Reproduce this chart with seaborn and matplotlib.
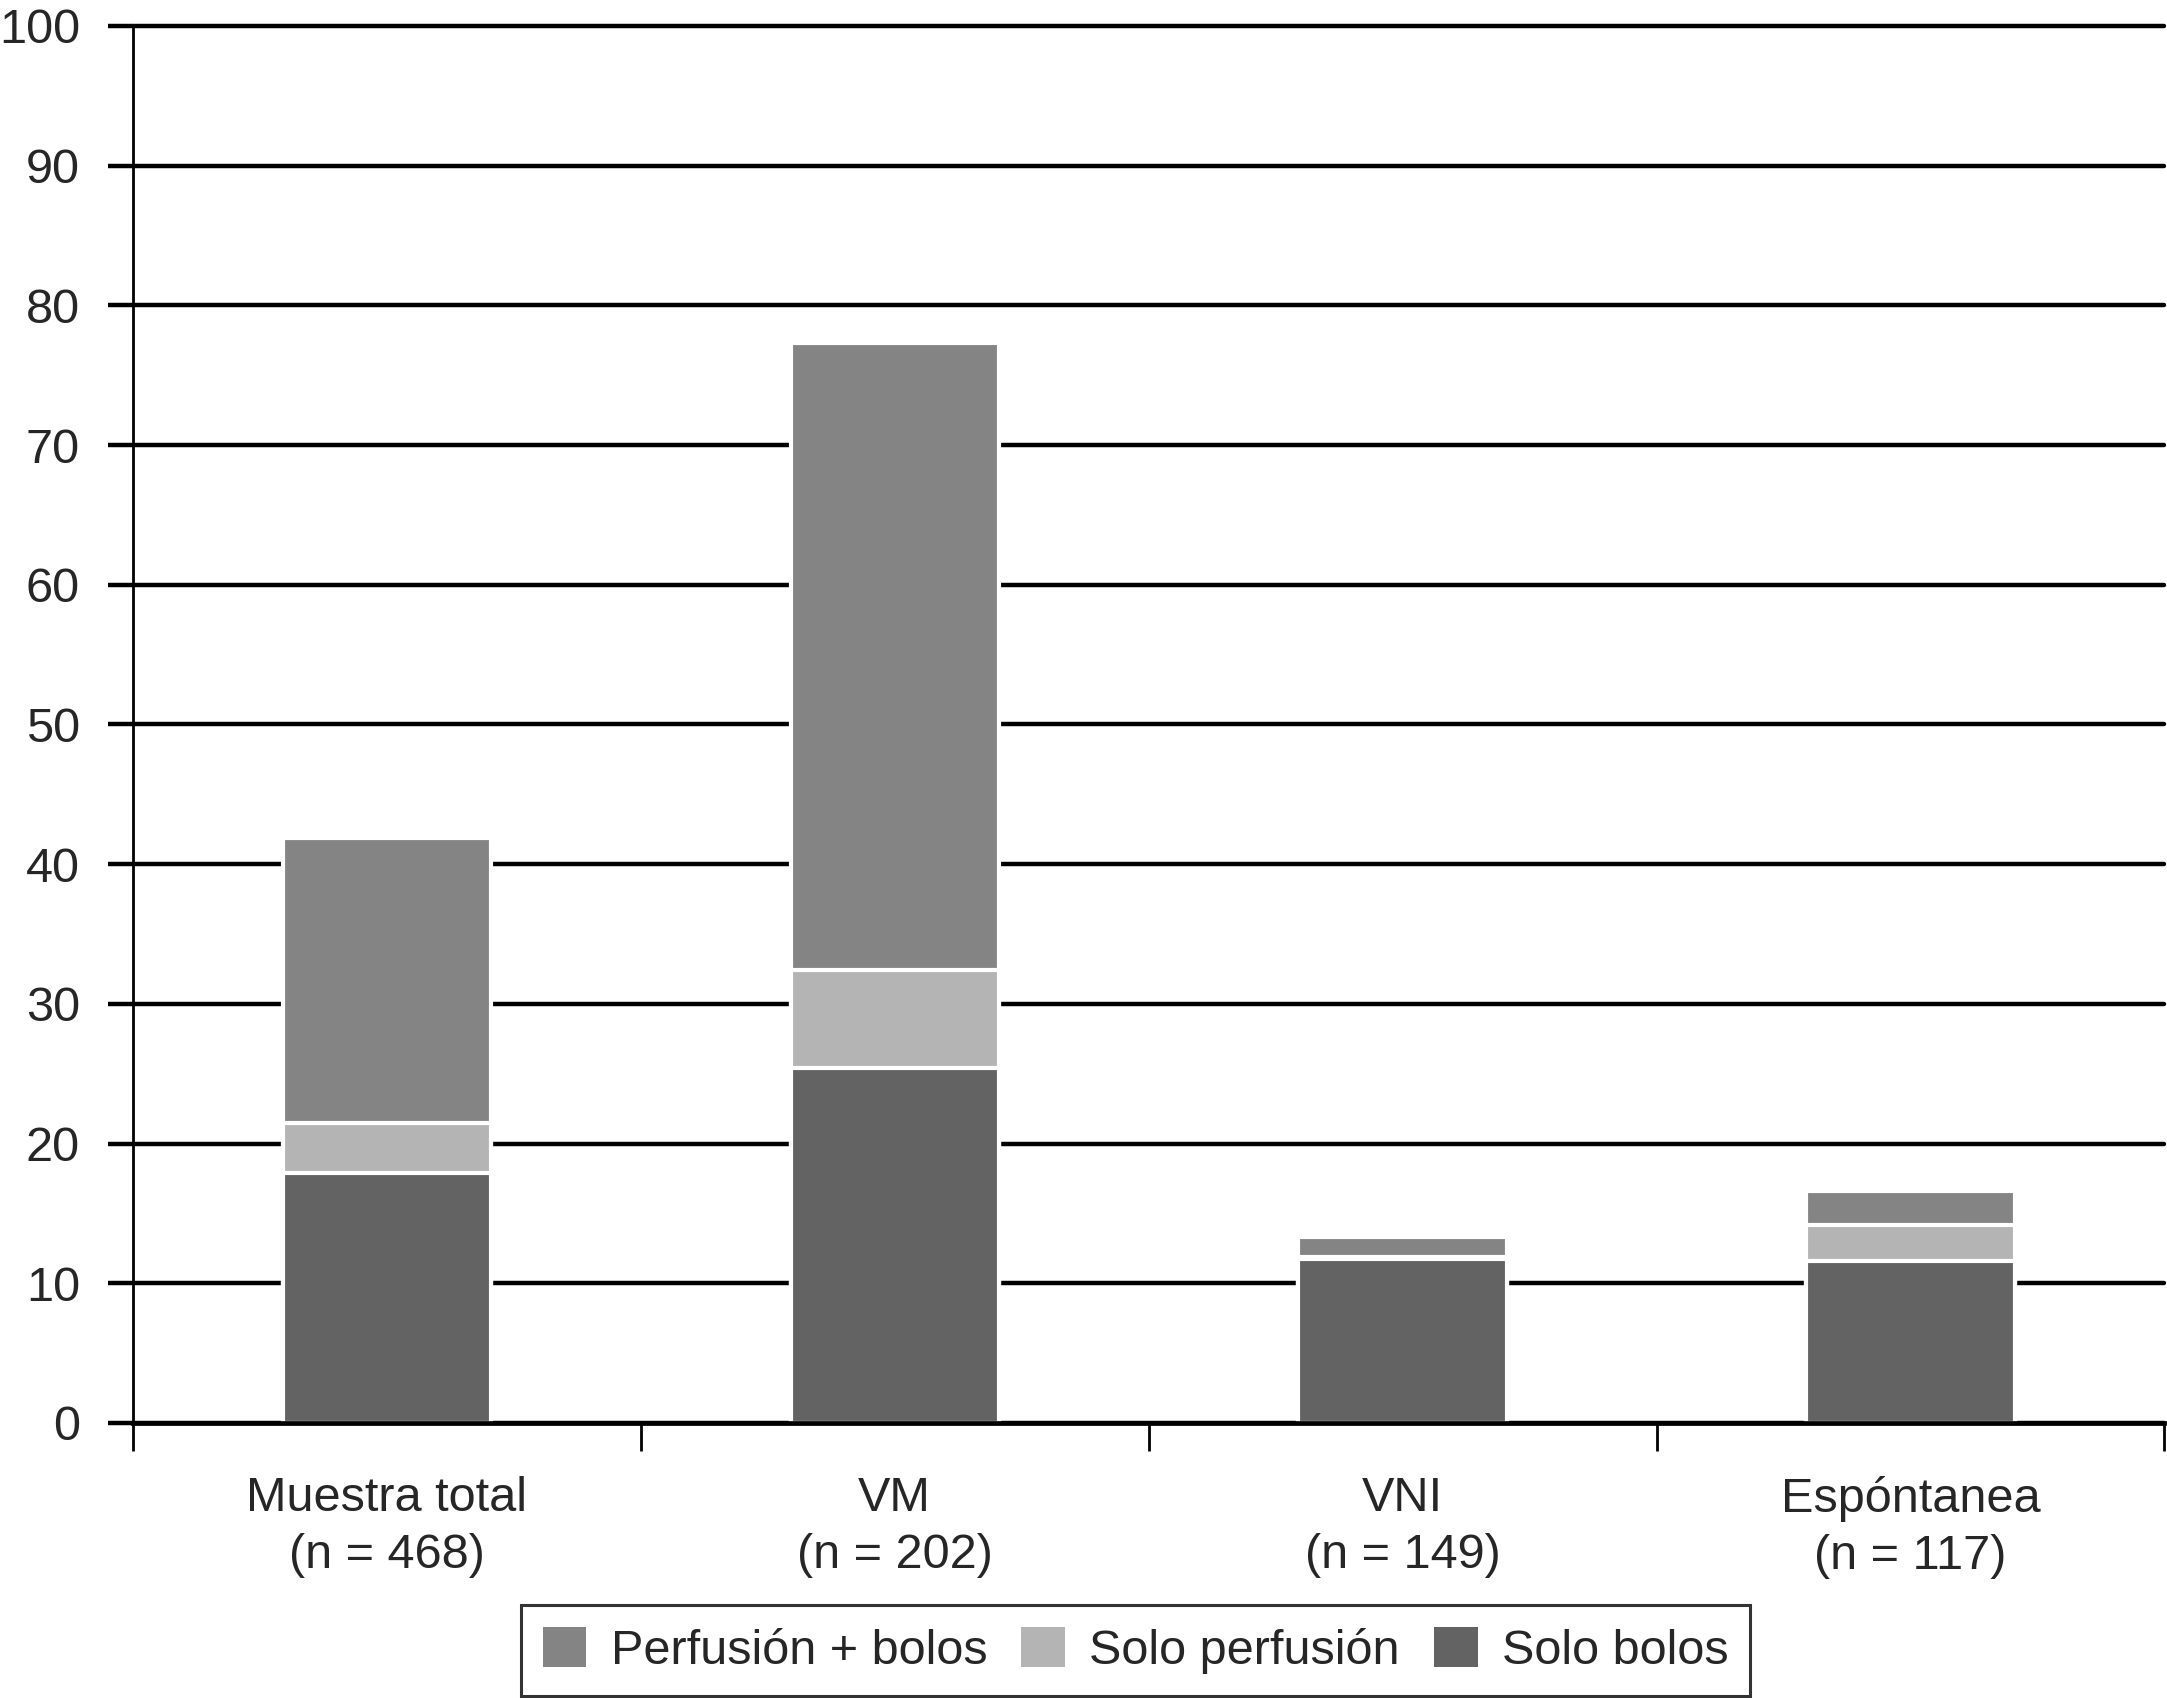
import numpy as np
import pandas as pd
import matplotlib
matplotlib.use("Agg")
import matplotlib.pyplot as plt
from matplotlib.patches import Patch
import seaborn as sns

# data (percent)
categorias = ["Muestra total\n(n = 468)", "VM\n(n = 202)", "VNI\n(n = 149)", "Espóntanea\n(n = 117)"]
solo_bolos = [17.9, 25.4, 11.7, 11.6]
solo_perfusion = [3.6, 7.0, 0.2, 2.6]
perfusion_bolos = [20.4, 44.9, 1.4, 2.4]

series = ["Perfusión + bolos", "Solo perfusión", "Solo bolos"]
colores = {"Perfusión + bolos": "#848484", "Solo perfusión": "#b4b4b4", "Solo bolos": "#636363"}

df = pd.DataFrame({
    "cat": categorias,
    "Solo bolos": solo_bolos,
    "Solo perfusión": solo_perfusion,
    "Perfusión + bolos": perfusion_bolos,
})
# cumulative heights so the bars stack
df["c1"] = df["Solo bolos"]
df["c2"] = df["c1"] + df["Solo perfusión"]
df["c3"] = df["c2"] + df["Perfusión + bolos"]

sns.set_style("white")
plt.rcParams["font.family"] = ["Liberation Sans", "DejaVu Sans"]

fig = plt.figure(figsize=(21.67, 16.98), dpi=100)
ax = fig.add_axes([0.0613, 0.162, 0.9375, 0.8227])

for col, name in [("c3", "Perfusión + bolos"), ("c2", "Solo perfusión"), ("c1", "Solo bolos")]:
    sns.barplot(data=df, x="cat", y=col, color=colores[name], width=0.41,
                edgecolor="white", linewidth=3, saturation=1, ax=ax)

ax.set_ylim(0, 100)
ax.set_xlim(-0.5, 3.5)
ax.set_yticks(np.arange(0, 101, 10))
ax.yaxis.grid(True, color="black", linewidth=3.2)
ax.set_axisbelow(True)
for gl in ax.yaxis.get_gridlines():
    gl.set_clip_on(False)

# category boundaries as major ticks, labels on minor ticks
ax.set_xticks(np.arange(-0.5, 4, 1))
ax.set_xticklabels([])
ax.set_xticks(np.arange(4), minor=True)
ax.set_xticklabels(categorias, minor=True, fontsize=35, linespacing=1.35)
ax.tick_params(axis="x", which="major", length=20, width=2, color="black", direction="out", bottom=True)
ax.tick_params(axis="x", which="minor", length=0, pad=38)
ax.tick_params(axis="y", length=18, width=3.2, color="black", direction="out", left=True, pad=20, labelsize=35)

for s in ["top", "right"]:
    ax.spines[s].set_visible(False)
ax.spines["left"].set_color("black")
ax.spines["left"].set_linewidth(2)
ax.spines["bottom"].set_color("black")
ax.spines["bottom"].set_linewidth(3.4)
ax.set_xlabel("")
ax.set_ylabel("")

handles = [Patch(facecolor=colores[s], edgecolor="none", label=s) for s in series]
leg = fig.legend(handles=handles, loc="center", bbox_to_anchor=(0.524, 0.028), ncol=3,
                 fontsize=35, frameon=True, fancybox=False, edgecolor="black",
                 handlelength=0.9, handleheight=0.9, handletextpad=0.5,
                 columnspacing=0.7, borderpad=0.45)
leg.get_frame().set_linewidth(2.2)

fig.savefig("out.png", dpi=100)
